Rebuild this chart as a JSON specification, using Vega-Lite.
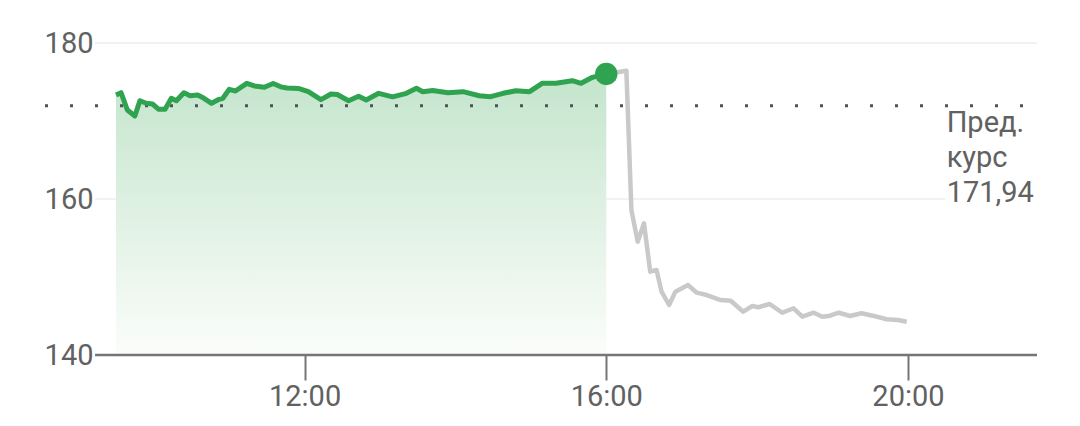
{
  "$schema": "https://vega.github.io/schema/vega-lite/v6.json",
  "description": "Intraday price with after-hours trading and previous close.",
  "autosize": "none",
  "padding": {"left": 45, "top": 43, "right": 43, "bottom": 71},
  "width": 992,
  "height": 312,
  "config": {
    "view": {"stroke": null},
    "font": "Roboto",
    "axis": {"labelFont": "Roboto", "labelFontSize": 29, "labelColor": "#616161", "domain": false, "grid": false}
  },
  "datasets": {
    "regular": [
      {"t": "2024-01-02T09:30:00", "v": 173.33},
      {"t": "2024-01-02T09:34:00", "v": 173.63},
      {"t": "2024-01-02T09:39:00", "v": 171.41},
      {"t": "2024-01-02T09:45:00", "v": 170.64},
      {"t": "2024-01-02T09:49:00", "v": 172.6},
      {"t": "2024-01-02T09:54:00", "v": 172.27},
      {"t": "2024-01-02T09:59:00", "v": 172.18},
      {"t": "2024-01-02T10:04:00", "v": 171.5},
      {"t": "2024-01-02T10:09:00", "v": 171.5},
      {"t": "2024-01-02T10:14:00", "v": 172.91},
      {"t": "2024-01-02T10:18:00", "v": 172.6},
      {"t": "2024-01-02T10:24:00", "v": 173.63},
      {"t": "2024-01-02T10:29:00", "v": 173.24},
      {"t": "2024-01-02T10:35:00", "v": 173.33},
      {"t": "2024-01-02T10:40:00", "v": 172.91},
      {"t": "2024-01-02T10:46:00", "v": 172.27},
      {"t": "2024-01-02T10:52:00", "v": 172.78},
      {"t": "2024-01-02T10:55:00", "v": 172.91},
      {"t": "2024-01-02T11:00:00", "v": 174.06},
      {"t": "2024-01-02T11:05:00", "v": 173.85},
      {"t": "2024-01-02T11:14:00", "v": 174.83},
      {"t": "2024-01-02T11:20:00", "v": 174.49},
      {"t": "2024-01-02T11:28:00", "v": 174.32},
      {"t": "2024-01-02T11:35:00", "v": 174.81},
      {"t": "2024-01-02T11:41:00", "v": 174.38},
      {"t": "2024-01-02T11:46:00", "v": 174.23},
      {"t": "2024-01-02T11:55:00", "v": 174.17},
      {"t": "2024-01-02T12:03:00", "v": 173.76},
      {"t": "2024-01-02T12:13:00", "v": 172.74},
      {"t": "2024-01-02T12:21:00", "v": 173.46},
      {"t": "2024-01-02T12:26:00", "v": 173.4},
      {"t": "2024-01-02T12:35:00", "v": 172.6},
      {"t": "2024-01-02T12:43:00", "v": 173.17},
      {"t": "2024-01-02T12:49:00", "v": 172.69},
      {"t": "2024-01-02T12:59:00", "v": 173.55},
      {"t": "2024-01-02T13:10:00", "v": 173.1},
      {"t": "2024-01-02T13:21:00", "v": 173.55},
      {"t": "2024-01-02T13:29:00", "v": 174.19},
      {"t": "2024-01-02T13:34:00", "v": 173.76},
      {"t": "2024-01-02T13:42:00", "v": 173.91},
      {"t": "2024-01-02T13:54:00", "v": 173.63},
      {"t": "2024-01-02T14:06:00", "v": 173.76},
      {"t": "2024-01-02T14:19:00", "v": 173.24},
      {"t": "2024-01-02T14:28:00", "v": 173.12},
      {"t": "2024-01-02T14:38:00", "v": 173.55},
      {"t": "2024-01-02T14:48:00", "v": 173.88},
      {"t": "2024-01-02T14:59:00", "v": 173.76},
      {"t": "2024-01-02T15:09:00", "v": 174.83},
      {"t": "2024-01-02T15:20:00", "v": 174.83},
      {"t": "2024-01-02T15:33:00", "v": 175.17},
      {"t": "2024-01-02T15:40:00", "v": 174.83},
      {"t": "2024-01-02T15:49:00", "v": 175.6},
      {"t": "2024-01-02T16:00:00", "v": 176.03}
    ],
    "after": [
      {"t": "2024-01-02T16:00:00", "v": 176.03},
      {"t": "2024-01-02T16:16:00", "v": 176.45},
      {"t": "2024-01-02T16:20:00", "v": 158.59},
      {"t": "2024-01-02T16:25:00", "v": 154.53},
      {"t": "2024-01-02T16:30:00", "v": 156.88},
      {"t": "2024-01-02T16:35:00", "v": 150.68},
      {"t": "2024-01-02T16:40:00", "v": 150.9},
      {"t": "2024-01-02T16:44:00", "v": 148.12},
      {"t": "2024-01-02T16:50:00", "v": 146.41},
      {"t": "2024-01-02T16:55:00", "v": 148.12},
      {"t": "2024-01-02T17:05:00", "v": 148.97},
      {"t": "2024-01-02T17:12:00", "v": 147.99},
      {"t": "2024-01-02T17:20:00", "v": 147.69},
      {"t": "2024-01-02T17:31:00", "v": 147.05},
      {"t": "2024-01-02T17:39:00", "v": 146.96},
      {"t": "2024-01-02T17:49:00", "v": 145.55},
      {"t": "2024-01-02T17:56:00", "v": 146.28},
      {"t": "2024-01-02T18:01:00", "v": 146.12},
      {"t": "2024-01-02T18:10:00", "v": 146.54},
      {"t": "2024-01-02T18:20:00", "v": 145.42},
      {"t": "2024-01-02T18:29:00", "v": 145.99},
      {"t": "2024-01-02T18:36:00", "v": 144.91},
      {"t": "2024-01-02T18:45:00", "v": 145.42},
      {"t": "2024-01-02T18:52:00", "v": 144.91},
      {"t": "2024-01-02T18:58:00", "v": 145.04},
      {"t": "2024-01-02T19:05:00", "v": 145.42},
      {"t": "2024-01-02T19:14:00", "v": 145.0},
      {"t": "2024-01-02T19:23:00", "v": 145.35},
      {"t": "2024-01-02T19:32:00", "v": 145.04},
      {"t": "2024-01-02T19:43:00", "v": 144.58},
      {"t": "2024-01-02T19:52:00", "v": 144.49},
      {"t": "2024-01-02T19:59:00", "v": 144.27}
    ],
    "gridlines": [
      {"v": 180, "t": "2024-01-02T09:13:20", "t2": "2024-01-02T21:42:40"},
      {"v": 160, "t": "2024-01-02T09:13:20", "t2": "2024-01-02T20:29:30"}
    ],
    "baseline": [
      {"v": 140, "t": "2024-01-02T09:13:20", "t2": "2024-01-02T21:42:40"}
    ],
    "prevclose": [
      {"v": 171.94, "t": "2024-01-02T08:33:30", "t2": "2024-01-02T21:42:40"}
    ],
    "note": [
      {"t": "2024-01-02T20:30:48", "v": 168.63, "label": "Пред.\nкурс\n171,94"}
    ]
  },
  "encoding": {
    "x": {
      "field": "t",
      "type": "temporal",
      "scale": {
        "domain": [
          {"year": 2024, "month": 1, "date": 2, "hours": 8, "minutes": 33, "seconds": 30},
          {"year": 2024, "month": 1, "date": 2, "hours": 21, "minutes": 42, "seconds": 40}
        ],
        "nice": false
      },
      "axis": {
        "title": null,
        "values": [
          {"year": 2024, "month": 1, "date": 2, "hours": 12},
          {"year": 2024, "month": 1, "date": 2, "hours": 16},
          {"year": 2024, "month": 1, "date": 2, "hours": 20}
        ],
        "format": "%H:%M",
        "ticks": true,
        "tickSize": 25,
        "tickWidth": 2,
        "tickColor": "#757575",
        "labelPadding": 2
      }
    },
    "y": {
      "field": "v",
      "type": "quantitative",
      "scale": {"domain": [140, 180], "nice": false, "zero": false},
      "axis": {
        "title": null,
        "values": [140, 160, 180],
        "ticks": false,
        "labelPadding": -48
      }
    }
  },
  "layer": [
    {
      "data": {"name": "gridlines"},
      "mark": {"type": "rule", "color": "#f2f2f2", "strokeWidth": 2},
      "encoding": {"x2": {"field": "t2"}}
    },
    {
      "data": {"name": "regular"},
      "mark": {
        "type": "area",
        "line": false,
        "color": {
          "gradient": "linear",
          "x1": 0, "y1": 0, "x2": 0, "y2": 1,
          "stops": [
            {"offset": 0, "color": "#c4e5cc"},
            {"offset": 1, "color": "#fbfdfb"}
          ]
        }
      },
      "encoding": {"y2": {"datum": 140}}
    },
    {
      "data": {"name": "baseline"},
      "mark": {"type": "rule", "color": "#757575", "strokeWidth": 2.5},
      "encoding": {"x2": {"field": "t2"}}
    },
    {
      "data": {"name": "after"},
      "mark": {"type": "line", "color": "#c9c9c9", "strokeWidth": 4.5, "strokeJoin": "round"},
      "encoding": {}
    },
    {
      "data": {"name": "prevclose"},
      "mark": {"type": "rule", "color": "#4f5357", "strokeWidth": 3, "strokeDash": [3, 22], "strokeCap": "butt"},
      "encoding": {"x2": {"field": "t2"}}
    },
    {
      "data": {"name": "regular"},
      "mark": {"type": "line", "color": "#2fa350", "strokeWidth": 5, "strokeJoin": "round"},
      "encoding": {}
    },
    {
      "data": {"name": "regular"},
      "transform": [{"filter": "hours(datum.t) == 16"}],
      "mark": {"type": "point", "filled": true, "shape": "circle", "size": 500, "color": "#2fa350", "opacity": 1},
      "encoding": {}
    },
    {
      "data": {"name": "note"},
      "mark": {
        "type": "text",
        "align": "left",
        "baseline": "alphabetic",
        "lineBreak": "\n",
        "lineHeight": 35,
        "fontSize": 29,
        "font": "Roboto",
        "color": "#616161"
      },
      "encoding": {"text": {"field": "label"}}
    }
  ]
}
